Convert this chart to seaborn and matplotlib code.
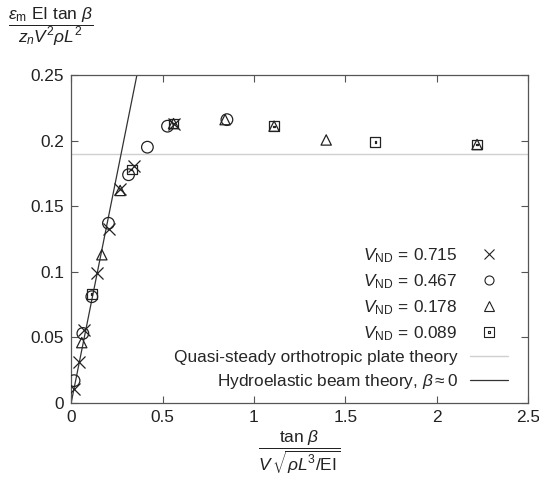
import numpy as np
import pandas as pd
import matplotlib
matplotlib.use("Agg")
import matplotlib.pyplot as plt
from matplotlib.path import Path
from matplotlib.lines import Line2D
import seaborn as sns

# ---- data ----
x_715 = [0.016, 0.045, 0.071, 0.140, 0.208, 0.268, 0.345, 0.560]
y_715 = [0.011, 0.031, 0.056, 0.099, 0.133, 0.163, 0.181, 0.213]

x_467 = [0.016, 0.064, 0.113, 0.204, 0.314, 0.417, 0.527, 0.852]
y_467 = [0.017, 0.053, 0.081, 0.137, 0.174, 0.195, 0.211, 0.216]

x_178 = [0.058, 0.168, 0.268, 0.560, 0.842, 1.110, 1.395, 2.220]
y_178 = [0.046, 0.113, 0.162, 0.213, 0.216, 0.211, 0.2005, 0.197]

x_089 = [0.113, 0.332, 0.560, 1.110, 1.663, 2.220]
y_089 = [0.083, 0.178, 0.213, 0.211, 0.199, 0.197]

series_labels = ["0.715", "0.467", "0.178", "0.089"]
plate_theory_value = 0.19
beam_x = [0.0, 0.36]
beam_slope = 0.695

xticks = [0, 0.5, 1, 1.5, 2, 2.5]
xticklabels = ["0", "0.5", "1", "1.5", "2", "2.5"]
yticks = [0, 0.05, 0.10, 0.15, 0.20, 0.25]
yticklabels = ["0", "0.05", "0.1", "0.15", "0.2", "0.25"]

# ---- style ----
sns.set_style("ticks")
plt.rcParams["font.family"] = ["Liberation Sans", "DejaVu Sans"]
plt.rcParams["mathtext.fontset"] = "custom"
plt.rcParams["mathtext.rm"] = "Liberation Sans"
plt.rcParams["mathtext.it"] = "Liberation Sans:italic"
plt.rcParams["mathtext.bf"] = "Liberation Sans:bold"
FS = 12.4
plt.rcParams["font.size"] = FS

# square with dot marker
sq = [(-1, -1), (1, -1), (1, 1), (-1, 1), (-1, -1)]
dot = [(-0.12, -0.12), (0.12, -0.12), (0.12, 0.12), (-0.12, 0.12), (-0.12, -0.12)]
verts = sq + dot
codes = [Path.MOVETO, Path.LINETO, Path.LINETO, Path.LINETO, Path.CLOSEPOLY] * 2
boxdot = Path(verts, codes)

fig = plt.figure(figsize=(5.39, 4.78), dpi=100)
ax = fig.add_axes([0.132, 0.157, 0.848, 0.686])

ink = "#222222"
specs = [
    (x_715, y_715, "x", 75),
    (x_467, y_467, "o", 70),
    (x_178, y_178, "^", 55),
    (x_089, y_089, boxdot, 50),
]
for (xs, ys, m, s) in specs:
    df = pd.DataFrame({"x": xs, "y": ys})
    if m == "x":
        sns.scatterplot(data=df, x="x", y="y", marker=m, s=s, color=ink,
                        linewidth=0.9, ax=ax, zorder=3)
    else:
        sns.scatterplot(data=df, x="x", y="y", marker=m, s=s, facecolor="none",
                        edgecolor=ink, linewidth=0.9, ax=ax, zorder=3)

ax.axhline(plate_theory_value, color="#d0d0d0", lw=1.0, zorder=1)
beam_df = pd.DataFrame({"x": beam_x, "y": [beam_slope * v for v in beam_x]})
sns.lineplot(data=beam_df, x="x", y="y", color="#333333", lw=0.9, ax=ax, zorder=2)

ax.set_xlim(0, 2.5)
ax.set_ylim(0, 0.25)
ax.set_xticks(xticks)
ax.set_xticklabels(xticklabels)
ax.set_yticks(yticks)
ax.set_yticklabels(yticklabels)
ax.set_xlabel("")
ax.set_ylabel("")
ax.tick_params(direction="in", top=True, right=True, length=5, width=0.8,
               colors="#555555", labelcolor="#222222", labelsize=FS, pad=5)
for sp in ax.spines.values():
    sp.set_color("#555555")
    sp.set_linewidth(0.9)

handles = [
    Line2D([], [], ls="none", marker="x", ms=7, mec=ink, mew=0.8),
    Line2D([], [], ls="none", marker="o", ms=6.5, mfc="none", mec=ink, mew=0.8),
    Line2D([], [], ls="none", marker="^", ms=6.5, mfc="none", mec=ink, mew=0.8),
    Line2D([], [], ls="none", marker=boxdot, ms=6.5, mfc="none", mec=ink, mew=0.8),
    Line2D([], [], color="#d0d0d0", lw=1.0),
    Line2D([], [], color="#333333", lw=0.9),
]
labels = [r"$V_{\mathrm{ND}}\,=\,%s$" % v for v in series_labels] + [
    "Quasi-steady orthotropic plate theory",
    r"Hydroelastic beam theory, $\beta \approx 0$",
]
ax.legend(handles, labels, loc="lower right", frameon=False, markerfirst=False,
          handlelength=2.2, handletextpad=0.7, labelspacing=0.42,
          bbox_to_anchor=(0.97, 0.015), borderaxespad=0.0, fontsize=FS)

fig.text(0.093, 0.944,
         r"$\dfrac{\varepsilon_{\mathrm{m}}\ \mathrm{EI}\ \mathrm{tan}\ \beta}{z_n V^2 \rho L^2}$",
         ha="center", va="center", fontsize=12.5, color="#222222")
fig.text(0.556, 0.053,
         r"$\dfrac{\mathrm{tan}\ \beta}{V\,\sqrt{\rho L^3/\mathrm{EI}}}$",
         ha="center", va="center", fontsize=12.5, color="#222222")

fig.savefig("out.png", dpi=100)
